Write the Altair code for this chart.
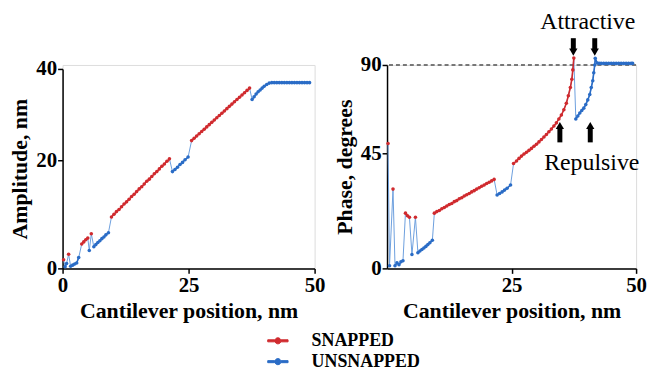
import altair as alt
import pandas as pd

# ---------------- data ----------------
# Left panel: amplitude (nm) vs cantilever position (nm); S = snapped, U = unsnapped
amp_x = [0.2, 0.5, 0.8, 1.2, 1.6, 2.0, 2.4, 2.8, 3.2, 3.8, 4.2, 4.6, 5.0, 5.3, 5.7,
         6.2, 6.6, 7.0, 7.4, 7.8, 8.2, 8.6, 9.1,
         9.7, 10.2, 10.7, 11.2, 11.7, 12.2, 12.7, 13.2, 13.7, 14.2, 14.7, 15.2, 15.7, 16.2,
         16.7, 17.2, 17.7, 18.2, 18.7, 19.2, 19.7, 20.2, 20.7, 21.2,
         21.8, 22.3, 22.8, 23.3, 23.8, 24.3, 24.9,
         25.6, 26.1, 26.6, 27.1, 27.6, 28.1, 28.6, 29.1, 29.6, 30.1, 30.6, 31.1, 31.6, 32.1,
         32.6, 33.1, 33.6, 34.1, 34.6, 35.1, 35.6, 36.1, 36.6, 37.1,
         37.6, 38.0, 38.4, 38.8, 39.2, 39.6, 40.0, 40.5, 41.0, 41.5, 42.0, 42.5, 43.0, 43.5,
         44.0, 44.5, 45.0, 45.5, 46.0, 46.5, 47.0, 47.5, 48.0, 48.5, 49.0]
amp_y = [1.6, 0.3, 0.9, 2.6, 0.4, 0.6, 0.8, 1.0, 2.0, 4.5, 4.9, 5.3, 5.6, 3.3, 6.4,
         4.0, 4.4, 4.8, 5.1, 5.5, 5.8, 6.2, 6.6,
         9.5, 10.0, 10.5, 10.9, 11.4, 11.9, 12.3, 12.8, 13.3, 13.7, 14.2, 14.7, 15.1, 15.6,
         16.1, 16.5, 17.0, 17.5, 17.9, 18.4, 18.9, 19.3, 19.8, 20.3,
         17.9, 18.3, 18.7, 19.2, 19.6, 20.1, 20.7,
         24.3, 24.8, 25.3, 25.8, 26.3, 26.8, 27.3, 27.8, 28.3, 28.8, 29.3, 29.8, 30.3, 30.8,
         31.3, 31.8, 32.3, 32.8, 33.3, 33.8, 34.3, 34.8, 35.3, 35.8,
         33.3, 33.9, 34.5, 35.0, 35.4, 35.8, 36.2, 36.6, 36.9, 37.0, 37.0, 37.0, 37.0, 37.0,
         37.0, 37.0, 37.0, 37.0, 37.0, 37.0, 37.0, 37.0, 37.0, 37.0, 37.0]
amp_state = ("S" + "UU" + "S" + "UUUUU" + "SSSS" + "U" + "S" + "UUUUUUUU"
             + "S" * 24 + "U" * 7 + "S" * 24 + "U" * 25)

# Right panel: phase (degrees) vs cantilever position (nm)
ph_x = [0.2, 0.5, 1.2, 1.6, 2.0, 2.4, 2.8, 3.2, 3.7, 4.1, 4.5, 5.0, 5.7,
        6.2, 6.6, 7.0, 7.4, 7.8, 8.2, 8.6, 9.1,
        9.5, 10.0, 10.5, 11.0, 11.5, 12.0, 12.5, 13.0, 13.5, 14.0, 14.5, 15.0, 15.5, 16.0,
        16.5, 17.0, 17.5, 18.0, 18.5, 19.0, 19.5, 20.0, 20.5, 21.0, 21.5,
        22.1, 22.6, 23.1, 23.6, 24.1, 24.8,
        25.4, 26.0, 26.5, 27.0, 27.5, 28.0, 28.5, 29.0, 29.5, 30.0, 30.5, 31.0, 31.5, 32.0,
        32.5, 33.0, 33.5, 34.0, 34.5, 35.0, 35.5, 36.0, 36.4, 36.8, 37.1, 37.3, 37.5,
        37.9, 38.3, 38.7, 39.1, 39.5, 39.9, 40.3, 40.7, 41.0, 41.3, 41.5, 41.7, 41.8,
        42.2, 42.6, 43.0, 43.5, 44.0, 44.5, 45.0, 45.5, 46.0, 46.5, 47.0, 47.5, 48.0,
        48.5, 49.0, 49.3]
ph_y = [50.0, 1.0, 31.0, 1.0, 2.2, 1.4, 2.6, 3.0, 21.6, 20.6, 20.0, 5.4, 20.0,
        6.1, 6.8, 7.4, 8.0, 8.6, 9.3, 10.0, 11.0,
        21.6, 22.2, 22.6, 23.3, 23.8, 24.4, 25.0, 25.4, 26.1, 26.5, 27.2, 27.6, 28.3, 28.8,
        29.3, 29.9, 30.4, 31.0, 31.5, 32.1, 32.6, 33.2, 33.7, 34.2, 34.8,
        28.7, 29.3, 29.9, 30.6, 31.3, 32.6,
        41.0, 42.0, 43.0, 43.9, 44.7, 45.5, 46.5, 47.5, 48.6, 49.6, 50.8, 52.0, 53.3, 54.6,
        56.0, 57.4, 58.9, 60.5, 62.5, 64.5, 67.2, 70.5, 74.3, 78.5, 82.7, 87.5, 93.5,
        62.5, 64.0, 65.5, 66.8, 68.0, 69.8, 72.2, 75.0, 78.5, 82.0, 86.0, 90.0, 93.4,
        91.0, 90.8, 90.8, 90.8, 90.8, 90.8, 90.8, 90.8, 90.8, 90.8, 90.8, 90.8, 90.8,
        90.8, 90.8, 90.8]
ph_state = ("S" + "U" + "S" + "UUUUU" + "SSS" + "U" + "S" + "UUUUUUUU"
            + "S" * 25 + "U" * 6 + "S" * 27 + "U" * 29)

state_names = {"S": "SNAPPED", "U": "UNSNAPPED"}
legend_labels = ["SNAPPED", "UNSNAPPED"]
legend_colors = ["#d02a2e", "#2a6cc6"]
link_color = "#6d9fde"

amp_ticks_x = [0, 25, 50]
amp_ticks_y = [0, 20, 40]
ph_ticks_x = [25, 50]
ph_ticks_y = [0, 45, 90]

arrow_down_x = [37.4, 41.7]
arrow_up_x = [34.7, 40.8]

FONT = "Liberation Serif"
W_LEFT, W_RIGHT, H = 254, 251, 205


def make_df(xs, ys, states):
    df = pd.DataFrame({"x": xs, "y": ys, "state": [state_names[s] for s in states]})
    df["order"] = range(len(df))
    df["seg"] = (df["state"] != df["state"].shift()).cumsum()
    return df


color_scale = alt.Scale(domain=legend_labels, range=legend_colors)
legend_symbol = ("M-1,-0.1 L-0.32,-0.1 L-0.32,0.1 L-1,0.1 Z "
                 "M0.32,-0.1 L1,-0.1 L1,0.1 L0.32,0.1 Z "
                 "M-0.3,0 A0.3,0.3 0 1,1 0.3,0 A0.3,0.3 0 1,1 -0.3,0 Z")
LEG = alt.Legend(title=None, orient="none", legendX=206, legendY=267,
                 symbolType=legend_symbol, symbolSize=420, symbolFillColor="black",
                 labelFont=FONT, labelFontWeight="bold", labelFontSize=18,
                 labelColor="black", labelOffset=23, rowPadding=1, symbolStrokeWidth=1)


def axis_x(values, title):
    return alt.Axis(values=values, title=title, labelFlush=False, grid=False,
                    tickSize=5, tickColor="black", domainColor="black", domainWidth=1.5,
                    tickWidth=1.5, labelFont=FONT, labelFontWeight="bold", labelFontSize=21,
                    labelColor="black", titleFont=FONT, titleFontWeight="bold",
                    titleFontSize=22, titleColor="black", labelPadding=1, titlePadding=5)


def axis_y(values, title):
    return alt.Axis(values=values, title=title, grid=False, tickSize=5,
                    tickColor="black", domainColor="black", domainWidth=1.5, tickWidth=1.5,
                    labelFont=FONT, labelFontWeight="bold", labelFontSize=21,
                    labelColor="black", titleFont=FONT, titleFontWeight="bold",
                    titleFontSize=22, titleColor="black", labelPadding=1, titlePadding=4)


def panel(df, xvals, yvals, ytitle, ydomain, yrange):
    xenc = alt.X("x:Q", scale=alt.Scale(domain=[0, 50], nice=False, zero=False),
                 axis=axis_x(xvals, "Cantilever position, nm"))
    yenc = alt.Y("y:Q", scale=alt.Scale(domain=ydomain, range=yrange, nice=False, zero=False),
                 axis=axis_y(yvals, ytitle))
    col = alt.Color("state:N", scale=color_scale, legend=LEG)
    base = alt.Chart(df)
    link = base.mark_line(color=link_color, strokeWidth=1).encode(x=xenc, y=yenc, order="order:Q")
    seg = base.mark_line(strokeWidth=1.6).encode(
        x=xenc, y=yenc, order="order:Q", detail="seg:N", color=col)
    pts = base.mark_circle(size=13, opacity=1).encode(x=xenc, y=yenc, color=col)
    return link, seg, pts


amp_df = make_df(amp_x, amp_y, amp_state)
ph_df = make_df(ph_x, ph_y, ph_state)

l1, l2, l3 = panel(amp_df, amp_ticks_x, amp_ticks_y, "Amplitude, nm",
                   [0, 20, 40], [H, 96, 4])
left = alt.layer(l1, l2, l3).properties(width=W_LEFT, height=H)

r1, r2, r3 = panel(ph_df, ph_ticks_x, ph_ticks_y, "Phase, degrees",
                   [0, 45, 90], [H, 89, 0])

ref = alt.Chart(pd.DataFrame({"y": [90]})).mark_rule(
    color="black", strokeDash=[4, 3], strokeWidth=1).encode(y=alt.Y("y:Q"))

down_df = pd.DataFrame({"x": arrow_down_x})
up_df = pd.DataFrame({"x": arrow_up_x})
down_shaft = alt.Chart(down_df).mark_rule(color="black", strokeWidth=5).encode(
    x="x:Q", y=alt.value(-27), y2=alt.value(-16))
down_head = alt.Chart(down_df).mark_point(shape="triangle-down", filled=True, color="black",
                                          opacity=1, size=70).encode(x="x:Q", y=alt.value(-13))
up_shaft = alt.Chart(up_df).mark_rule(color="black", strokeWidth=5).encode(
    x="x:Q", y=alt.value(64), y2=alt.value(78))
up_head = alt.Chart(up_df).mark_point(shape="triangle-up", filled=True, color="black",
                                      opacity=1, size=70).encode(x="x:Q", y=alt.value(61))
attr_txt = alt.Chart(pd.DataFrame({"x": [40.3], "t": ["Attractive"]})).mark_text(
    font=FONT, fontSize=24, color="black", baseline="alphabetic", align="center").encode(
    x="x:Q", y=alt.value(-36), text="t:N")
rep_txt = alt.Chart(pd.DataFrame({"x": [41.1], "t": ["Repulsive"]})).mark_text(
    font=FONT, fontSize=24, color="black", baseline="alphabetic", align="center").encode(
    x="x:Q", y=alt.value(106), text="t:N")

right = alt.layer(r1, ref, r2, r3, down_shaft, down_head, up_shaft, up_head,
                  attr_txt, rep_txt).properties(width=W_RIGHT, height=H)

chart = alt.hconcat(left, right, spacing=73, bounds="flush").properties(
    padding={"left": 0, "top": 0, "right": 0, "bottom": 0}
).configure_view(stroke=None).configure(background="white")

chart.save("out.html", embed_options={"renderer": "svg", "actions": False})
